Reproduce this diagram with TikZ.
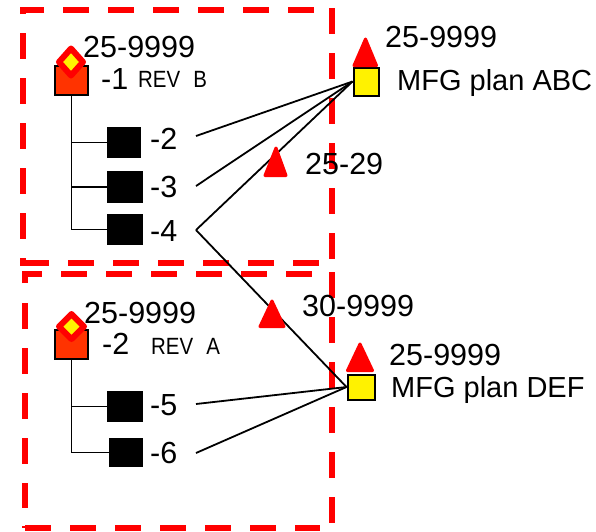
\documentclass[tikz,border=0pt]{standalone}
\usepackage{fontspec}
\setmainfont{Liberation Sans}
\definecolor{partred}{HTML}{FF3300}
\newcommand{\revtext}[1]{\scalebox{.87}[1]{#1}}
\tikzset{
  lbl/.style={anchor=base west,inner sep=0pt,font=\fontsize{30.5}{36}\selectfont,text=black},
  plan/.style={anchor=base west,inner sep=0pt,font=\fontsize{29}{35}\selectfont,text=black},
  rev/.style={anchor=base west,inner sep=0pt,font=\fontsize{23.5}{27}\selectfont,text=black},
  blk/.style={fill=black,draw=none,inner sep=0pt},
  part/.style={fill=partred,draw=black,line width=2pt,inner sep=0pt,minimum width=33.5pt,minimum height=29.5pt},
  yel/.style={fill=yellow,draw=black,line width=2pt,inner sep=0pt},
  tree/.style={draw=black,line width=1.9pt},
  con/.style={draw=black,line width=1.8pt},
  tri/.style={fill=red,draw=red,line width=3pt,line join=round},
  dia/.style={fill=yellow,draw=red,line width=6pt,line join=round},
  rdash/.style={draw=red,line width=6.2pt,dash pattern=on 25.5pt off 19.5pt},
  rsolid/.style={draw=red,line width=6.2pt}
}
\begin{document}
\begin{tikzpicture}[x=1pt,y=-1pt]
\useasboundingbox (0,0) rectangle (596,531);
% dashed boxes
\draw[rsolid] (22.7,14) -- (22.7,10) -- (44,10);
\draw[rdash] (63,10) -- (332,10);
\draw[rdash] (22.7,33) -- (22.7,240);
\draw[rsolid] (22.7,258) -- (22.7,263) -- (25,263);
\draw[rdash] (23,263) -- (319,263);
\draw[rdash] (332,8) -- (332,261);
\draw[rsolid] (25,283) -- (25,274) -- (42,274);
\draw[rdash] (61,274) -- (319,274);
\draw[rdash] (25,303) -- (25,508);
\draw[rsolid] (25,526) -- (25,528);
\draw[rdash] (25,528) -- (320,528);
\draw[rdash] (332,272) -- (332,523);
% tree 1
\node[part] (p1) at (71.5,80.5) {};
\node[blk,minimum width=34pt,minimum height=31.5pt] (s2) at (124,142.5) {};
\node[blk,minimum width=36pt,minimum height=31.5pt] (s3) at (125,187) {};
\node[blk,minimum width=36pt,minimum height=31.5pt] (s4) at (125,229.5) {};
\draw[dia] (71,48.5) -- (83,62) -- (71,75.5) -- (59,62) -- cycle;
\draw[tree] (p1.south) |- (s4.west);
\draw[tree] (p1.south |- s2.west) -- (s2.west);
\draw[tree] (p1.south |- s3.west) -- (s3.west);
% tree 2
\node[part] (p2) at (71.5,344.5) {};
\node[blk,minimum width=36pt,minimum height=31.5pt] (s5) at (125,406.5) {};
\node[blk,minimum width=34pt,minimum height=29.5pt] (s6) at (126,452.5) {};
\draw[dia] (71.5,314) -- (84,326.5) -- (71.5,339) -- (59,326.5) -- cycle;
\draw[tree] (p2.south) |- (s6.west);
\draw[tree] (p2.south |- s5.west) -- (s5.west);
% plans
\node[yel,minimum width=25pt,minimum height=28pt] (m1) at (366,81.5) {};
\node[yel,minimum width=27pt,minimum height=25pt] (m2) at (361,387) {};
\draw[tri] (365.5,39) -- (376.5,65.5) -- (354,65.5) -- cycle;
\draw[tri] (360,344) -- (372.5,370.5) -- (347.5,370.5) -- cycle;
% free ends
\coordinate (e2) at (196,136);
\coordinate (e3) at (196,186);
\coordinate (e4) at (196,230);
\coordinate (e5) at (196,404);
\coordinate (e6) at (196,453);
\draw[con] (e2) -- (m1.west);
\draw[con] (e3) -- (m1.west);
\draw[con] (e4) -- (m1.west);
\draw[con] (e4) -- (m2.west);
\draw[con] (e5) -- (m2.west);
\draw[con] (e6) -- (m2.west);
% effectivity triangles
\draw[tri] (276,148) -- (286,175.5) -- (265,175.5) -- cycle;
\draw[tri] (272,301) -- (284,326.5) -- (260,326.5) -- cycle;
% texts
\node[lbl] (t1) at (83,57.5) {25-9999};
\node[lbl] (t2) at (101,89) {-1};
\node[rev] (t3) at (138,87) {\revtext{REV\hspace{15pt}B}};
\node[lbl] (t4) at (150,149.5) {-2};
\node[lbl] (t5) at (150,197) {-3};
\node[lbl] (t6) at (150,241.5) {-4};
\node[lbl] (t7) at (84,323.5) {25-9999};
\node[lbl] (t8) at (102,354) {-2};
\node[rev] (t9) at (151,354) {\revtext{REV\hspace{15pt}A}};
\node[lbl] (t10) at (150,415.5) {-5};
\node[lbl] (t11) at (150,463.5) {-6};
\node[lbl] (t12) at (385,47) {25-9999};
\node[plan] (t13) at (397,90) {MFG plan ABC};
\node[lbl] (t14) at (305,174) {25-29};
\node[lbl] (t15) at (302,316) {30-9999};
\node[lbl] (t16) at (389,365) {25-9999};
\node[plan] (t17) at (391,397) {MFG plan DEF};
\end{tikzpicture}
\end{document}
